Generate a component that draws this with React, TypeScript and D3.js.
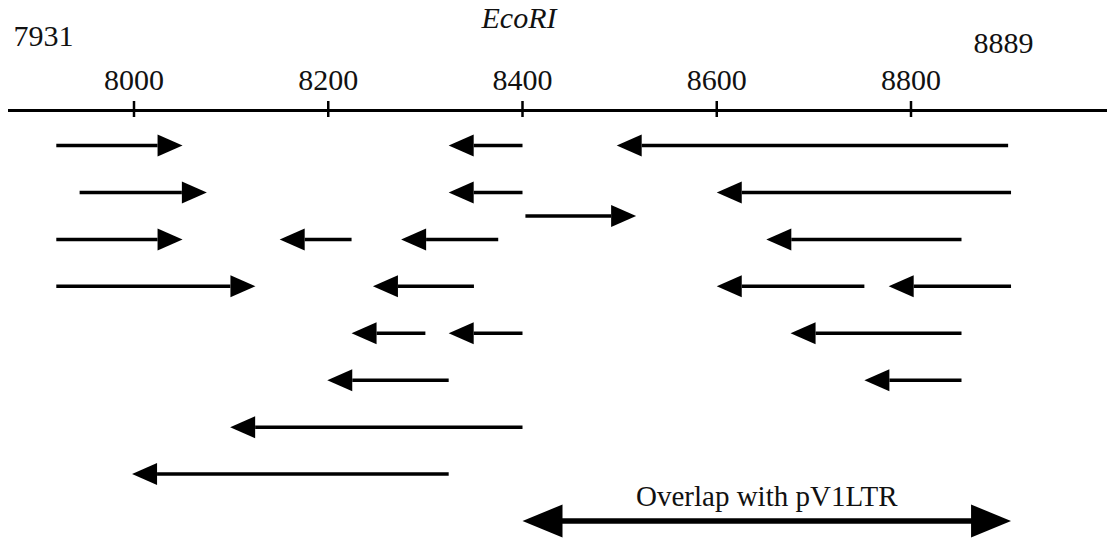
import React from 'react'
import * as d3 from 'd3'

const width = 1107
const height = 539

// tick values on the map axis
const tickValues = [8000, 8200, 8400, 8600, 8800]
const endLabels = ['7931', '8889']

// sequenced fragments: lane, tail position, tip position (arrow points at tip)
const lanes = [0, 0, 0, 1, 1, 1, 1.5, 2, 2, 2, 2, 3, 3, 3, 3, 4, 4, 4, 5, 5, 6, 7]
const tails = [7920, 8400, 8900, 7944, 8400, 8903, 8403, 7920, 8224, 8375, 8852, 7920, 8350, 8752, 8903, 8300, 8400, 8852, 8324, 8852, 8400, 8324]
const tips = [8050, 8324, 8497, 8075, 8324, 8600, 8517, 8050, 8150, 8275, 8651, 8125, 8246, 8600, 8777, 8224, 8324, 8676, 8199, 8752, 8099, 7998]

// overlap region with pV1LTR
const overlapLane = 8
const overlapRange = [8400, 8903]
const overlapLabel = 'Overlap with pV1LTR'

const font = '"Liberation Serif", "Times New Roman", serif'

export default function App() {
  const x = d3.scaleLinear().domain([8000, 8800]).range([134, 911])
  const y = d3.scaleLinear().domain([0, 8]).range([145.5, 521])
  const axisY = 110.5

  const arrow = (tail: number, tip: number, yy: number, hl: number, hw: number) => {
    const dir = tip > tail ? 1 : -1
    const xt = x(tip)
    const xb = xt - dir * hl
    return { line: [x(tail), xb], head: `M${xt},${yy}L${xb},${yy - hw / 2}L${xb},${yy + hw / 2}Z` }
  }

  const ovY = y(overlapLane)
  const ovL = x(overlapRange[0])
  const ovR = x(overlapRange[1])

  return (
    <svg width={width} height={height} style={{ position: 'absolute', left: 0, top: 0, background: '#fff' }}>
      {/* axis */}
      <line x1={8} x2={width} y1={axisY} y2={axisY} stroke="#000" strokeWidth={3} />
      {tickValues.map(t => (
        <g key={t} transform={`translate(${x(t)},0)`}>
          <line y1={101} y2={117} stroke="#000" strokeWidth={2.5} />
          <text y={90} textAnchor="middle" fontFamily={font} fontSize={30} fill="#111">{t}</text>
        </g>
      ))}
      <text x={43.5} y={46} textAnchor="middle" fontFamily={font} fontSize={30} fill="#111">{endLabels[0]}</text>
      <text x={1003.5} y={53} textAnchor="middle" fontFamily={font} fontSize={30} fill="#111">{endLabels[1]}</text>
      <text x={519} y={28} textAnchor="middle" fontFamily={font} fontStyle="italic" fontSize={30} fill="#111">EcoRI</text>

      {/* fragments */}
      {lanes.map((l, i) => {
        const yy = y(l)
        const a = arrow(tails[i], tips[i], yy, 25, 22)
        return (
          <g key={i}>
            <line x1={a.line[0]} x2={a.line[1]} y1={yy} y2={yy} stroke="#000" strokeWidth={3.5} />
            <path d={a.head} fill="#000" />
          </g>
        )
      })}

      {/* overlap double arrow */}
      <line x1={ovL + 38} x2={ovR - 38} y1={ovY} y2={ovY} stroke="#000" strokeWidth={5.5} />
      <path d={`M${ovL},${ovY}L${ovL + 40},${ovY - 16.5}L${ovL + 40},${ovY + 16.5}Z`} fill="#000" />
      <path d={`M${ovR},${ovY}L${ovR - 40},${ovY - 16.5}L${ovR - 40},${ovY + 16.5}Z`} fill="#000" />
      <text x={(ovL + ovR) / 2} y={506} textAnchor="middle" fontFamily={font} fontSize={29} fill="#111">{overlapLabel}</text>
    </svg>
  )
}
